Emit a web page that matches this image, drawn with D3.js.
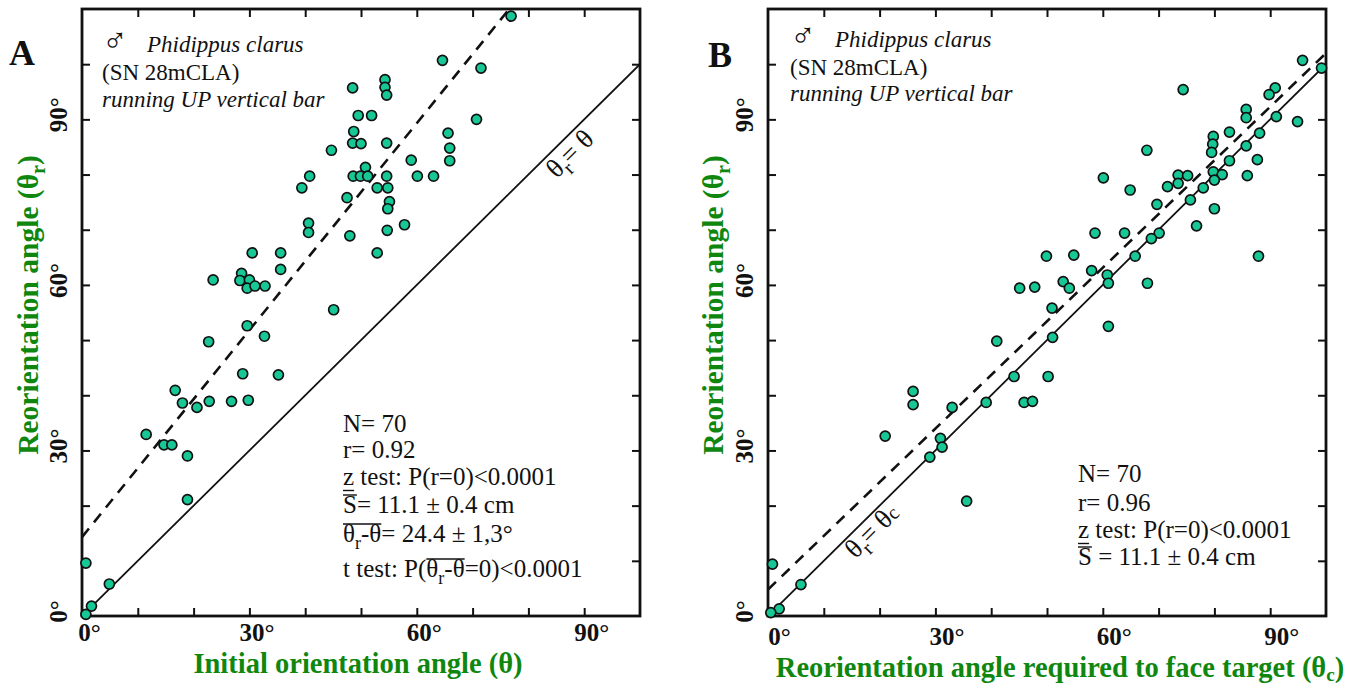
<!DOCTYPE html>
<html><head><meta charset="utf-8">
<script src="https://cdn.jsdelivr.net/npm/d3@7"></script>
<style>body{margin:0;background:#fff}svg{display:block}</style>
</head><body>
<svg id="c" width="1368" height="686"></svg>
<script>
// ---------- data ----------
const thetaA  = [76.9,64.6,71.5,54.3,54.3,54.6,48.5,49.5,51.9,70.7,48.7,48.5,50.0,54.6,65.6,65.9,65.9,59.0,44.7,50.8,40.8,48.6,49.9,51.2,54.6,60.1,63.0,39.4,52.9,54.8,55.1,54.8,47.5,40.6,40.6,57.8,54.7,48.0,30.5,35.6,52.9,35.6,23.5,28.6,28.3,30.0,29.6,31.0,32.8,45.1,29.6,32.7,22.7,28.8,35.2,16.7,18.0,20.6,22.8,26.8,29.8,11.5,14.7,16.1,18.9,18.9,0.7,4.9,1.7,0.7];
const thetaRA = [108.7,100.7,99.3,97.2,95.8,94.4,95.7,90.7,90.7,90.0,87.8,85.7,85.6,85.7,87.5,84.8,82.5,82.6,84.4,81.3,79.7,79.7,79.7,79.7,79.7,79.7,79.7,77.6,77.6,77.6,75.1,73.8,75.8,71.2,69.5,70.9,69.9,68.9,65.8,65.8,65.8,62.8,60.9,62.1,60.8,60.9,59.4,59.8,59.8,55.5,52.6,50.7,49.7,43.9,43.7,40.9,38.6,37.8,38.9,38.9,39.1,32.9,31.0,31.0,29.0,21.1,9.6,5.8,1.8,0.3];
const thetaCB = [95.8,99.2,74.4,90.9,89.8,85.7,85.7,91.1,94.9,88.1,82.7,79.8,79.7,79.5,85.7,82.7,87.7,67.9,79.8,81.4,85.9,73.5,75.2,80.0,73.5,71.6,78.0,60.1,64.9,75.7,69.7,80.0,76.8,58.6,63.9,70.1,68.7,65.8,87.9,49.9,54.8,58.0,60.8,61.0,52.9,54.0,45.1,47.8,68.0,50.9,61.0,51.0,41.0,44.1,50.2,39.1,45.9,47.4,26.0,26.0,33.0,21.0,30.9,31.2,29.0,35.6,0.8,5.9,2.0,0.5];
const thetaRB = [100.7,99.3,95.4,95.7,94.5,91.8,90.3,90.5,89.6,87.5,87.7,86.9,85.5,84.0,85.2,82.5,82.7,84.4,80.5,80.0,79.8,79.9,79.8,79.0,78.4,77.8,77.6,79.4,77.2,75.4,74.6,73.8,70.7,69.4,69.4,69.4,68.4,65.2,65.2,65.2,65.4,62.6,61.8,60.3,60.6,59.4,59.4,59.6,60.3,55.8,52.5,50.5,49.8,43.4,43.4,38.7,38.7,38.9,40.7,38.3,37.8,32.6,32.2,30.6,28.8,20.8,9.4,5.7,1.3,0.6];
const tickLabelValues = [0, 30, 60, 90];
const minorTickValues = [10, 20, 30, 40, 50, 60, 70, 80, 90, 100];
const xDomain = [0, 100];
const yDomain = [0, 110];
const regA = [14.3, 1.25];   // intercept, slope of dashed line (panel A)
const regB = [4.8, 0.972];   // intercept, slope of dashed line (panel B)
const speciesLines = [
  [{t:"\u2642", sym:true}, {t:"Phidippus clarus", it:true}],
  [{t:"(SN 28mCLA)"}],
  [{t:"running UP vertical bar", it:true}]
];
const statsA = [
  [{t:"N= 70"}],
  [{t:"r= 0.92"}],
  [{t:"z", under:true},{t:" test: P(r=0)<0.0001"}],
  [{t:"S", over:true},{t:"= 11.1 \u00b1 0.4 cm"}],
  [{t:"\u03b8", over:true},{t:"r", sub:true, over:true},{t:"-\u03b8", over:true},{t:"= 24.4 \u00b1 1,3\u00b0"}],
  [{t:"t test: P("},{t:"\u03b8", over:true},{t:"r", sub:true, over:true},{t:"-\u03b8", over:true},{t:"=0)<0.0001"}]
];
const statsB = [
  [{t:"N= 70"}],
  [{t:"r= 0.96"}],
  [{t:"z", under:true},{t:" test: P(r=0)<0.0001"}],
  [{t:"S", over:true},{t:" = 11.1 \u00b1 0.4 cm"}]
];

// ---------- drawing ----------
const SERIF = "'Liberation Serif','Times New Roman',serif";
const GREEN = "#0f870f";
const PT = "#17c795";
const INK = "#111";
const svg = d3.select("#c");

function segText(parent, x, y, segs, size) {
  const t = parent.append("text").attr("x", x).attr("y", y)
    .attr("font-family", SERIF).attr("font-size", size).attr("fill", INK);
  const nodes = [];
  segs.forEach((s, i) => {
    const sp = t.append("tspan").text(s.t);
    if (s.it) sp.attr("font-style", "italic");
    if (s.sym) sp.attr("font-family", "'DejaVu Sans',sans-serif").attr("font-weight", 200).attr("font-size", size * 1.5);
    if (s.sub) sp.attr("font-size", size * 0.72).attr("dy", 6.5);
    else if (i > 0 && segs[i - 1].sub) sp.attr("dy", -6.5);
    nodes.push({s, sp});
  });
  return {t, nodes};
}
function decorate(parent, obj, y) {
  let run = null;
  const runs = [];
  obj.nodes.forEach(n => {
    const node = n.sp.node();
    const len = node.getNumberOfChars();
    if (len === 0) return;
    const x0 = node.getStartPositionOfChar(0).x;
    const x1 = node.getEndPositionOfChar(len - 1).x;
    if (n.s.over) {
      if (run) run[1] = x1; else { run = [x0, x1]; runs.push(run); }
    } else run = null;
    if (n.s.under) parent.append("line").attr("x1", x0).attr("x2", x1)
      .attr("y1", y + 5.5).attr("y2", y + 5.5).attr("stroke", INK).attr("stroke-width", 1.4);
  });
  runs.forEach(r => parent.append("line").attr("x1", r[0]).attr("x2", r[1])
    .attr("y1", y - 18).attr("y2", y - 18).attr("stroke", INK).attr("stroke-width", 1.4));
}

function panel(p) {
  const g = svg.append("g");
  const x = d3.scaleLinear().domain(xDomain).range([p.left, p.right]);
  const y = d3.scaleLinear().domain(yDomain).range([p.bottom, p.top]);
  const minor = minorTickValues.filter(v => v < 100);
  const styleTicks = sel => { sel.select(".domain").remove(); sel.selectAll("line").attr("stroke", INK).attr("stroke-width", 2); };
  g.append("g").attr("transform", `translate(0,${p.bottom})`)
    .call(d3.axisBottom(x).tickValues(minor).tickSize(-8).tickFormat("")).call(styleTicks);
  g.append("g").attr("transform", `translate(0,${p.top})`)
    .call(d3.axisTop(x).tickValues(minor).tickSize(-8).tickFormat("")).call(styleTicks);
  g.append("g").attr("transform", `translate(${p.left},0)`)
    .call(d3.axisLeft(y).tickValues(minorTickValues).tickSize(-8).tickFormat("")).call(styleTicks);
  g.append("g").attr("transform", `translate(${p.right},0)`)
    .call(d3.axisRight(y).tickValues(minorTickValues).tickSize(-8).tickFormat("")).call(styleTicks);

  // tick labels
  const bl = g.append("g").attr("transform", `translate(0,${p.bottom})`)
    .call(d3.axisBottom(x).tickValues(tickLabelValues).tickSize(0).tickFormat(d => d + "\u00b0"));
  bl.select(".domain").remove();
  bl.selectAll("text").attr("y", p.xLabY).attr("dy", 0).attr("x", p.xLabDx)
    .attr("font-family", SERIF).attr("font-weight", "bold").attr("font-size", 25).attr("fill", INK);
  const ll = g.append("g").attr("transform", `translate(${p.left},0)`)
    .call(d3.axisLeft(y).tickValues(tickLabelValues).tickSize(0).tickFormat(d => d + "\u00b0"));
  ll.select(".domain").remove();
  ll.selectAll("text").attr("x", 0).attr("y", 0).attr("dy", 0).attr("text-anchor", "middle")
    .attr("transform", "translate(-15,-5) rotate(-90)")
    .attr("font-family", SERIF).attr("font-weight", "bold").attr("font-size", 25).attr("fill", INK);

  // lines
  const clipId = "clip" + p.id;
  svg.append("clipPath").attr("id", clipId).append("rect")
    .attr("x", p.left).attr("y", p.top).attr("width", p.right - p.left).attr("height", p.bottom - p.top);
  const line = d3.line().x(d => x(d[0])).y(d => y(d[1]));
  g.append("path").attr("clip-path", `url(#${clipId})`)
    .attr("d", line([[0, 0], [100, 100]])).attr("stroke", INK).attr("stroke-width", 1.8).attr("fill", "none");
  const xEnd = Math.min(100, (yDomain[1] - p.reg[0]) / p.reg[1]);
  g.append("path").attr("clip-path", `url(#${clipId})`)
    .attr("d", line([[0, p.reg[0]], [xEnd, p.reg[0] + p.reg[1] * xEnd]]))
    .attr("stroke", INK).attr("stroke-width", 2.6).attr("stroke-dasharray", "11,8").attr("fill", "none");

  // frame
  g.append("rect").attr("x", p.left).attr("y", p.top).attr("width", p.right - p.left).attr("height", p.bottom - p.top)
    .attr("fill", "none").attr("stroke", INK).attr("stroke-width", 2.8);

  // points
  g.append("g").selectAll("circle").data(p.xs.map((v, i) => [v, p.ys[i]])).join("circle")
    .attr("cx", d => x(d[0])).attr("cy", d => y(d[1])).attr("r", 5)
    .attr("fill", PT).attr("stroke", INK).attr("stroke-width", 1.7);

  // identity label
  const il = g.append("text").attr("transform", `translate(${p.idLab[0]},${p.idLab[1]}) rotate(-45)`)
    .attr("text-anchor", "middle").attr("font-family", SERIF).attr("font-size", 27).attr("fill", INK);
  il.append("tspan").text("\u03b8");
  il.append("tspan").text("r").attr("font-size", 20).attr("dy", 7);
  il.append("tspan").text("= \u03b8").attr("dy", -7);
  if (p.idSub) il.append("tspan").text(p.idSub).attr("font-size", 20).attr("dy", 0);

  // species text
  speciesLines.forEach((ln, i) => {
    const o = segText(g, p.spX, p.spY[i], ln, 23);
    if (ln.length > 1) o.nodes[1].sp.attr("x", p.spX + 45);
  });

  // stats
  p.stats.forEach((ln, i) => {
    const o = segText(g, p.stX, p.stY[i], ln, 25);
    decorate(g, o, p.stY[i]);
  });

  // panel letter
  g.append("text").attr("x", p.letter[0]).attr("y", p.letter[1]).attr("text-anchor", "middle")
    .attr("font-family", SERIF).attr("font-weight", "bold").attr("font-size", 36).attr("fill", INK).text(p.letterText);

  // axis titles
  const xt = g.append("text").attr("x", p.xTitle[0]).attr("y", p.xTitle[1]).attr("text-anchor", "middle")
    .attr("font-family", SERIF).attr("font-weight", "bold").attr("font-size", 28.5).attr("fill", GREEN);
  p.xTitleSegs.forEach(s => {
    const sp = xt.append("tspan").text(s.t);
    if (s.sub) sp.attr("font-size", 19).attr("dy", 4);
    if (s.back) sp.attr("dy", -4);
  });
  const yt = g.append("text").attr("transform", `translate(${p.yTitle[0]},${p.yTitle[1]}) rotate(-90)`)
    .attr("text-anchor", "middle").attr("font-family", SERIF).attr("font-weight", "bold").attr("font-size", 29.5).attr("fill", GREEN);
  yt.append("tspan").text("Reorientation angle (\u03b8");
  yt.append("tspan").text("r").attr("font-size", 20).attr("dy", 7);
  yt.append("tspan").text(")").attr("dy", -7);
}

panel({
  id: "A", left: 82, right: 640, top: 9, bottom: 616,
  xs: thetaA, ys: thetaRA, reg: regA, xLabDx: 7, xLabY: 25,
  idLab: [576, 160], idSub: null,
  spX: 102, spY: [52, 80, 107],
  stX: 343, stY: [432, 458, 485, 513, 542, 577], stats: statsA,
  letter: [22, 65], letterText: "A",
  xTitle: [358, 673], xTitleSegs: [{t:"Initial orientation angle (\u03b8)"}],
  yTitle: [38, 305]
});
panel({
  id: "B", left: 768, right: 1326, top: 9, bottom: 616,
  xs: thetaCB, ys: thetaRB, reg: regB, xLabDx: 11, xLabY: 29,
  idLab: [878, 537], idSub: "c",
  spX: 790, spY: [47, 75, 101],
  stX: 1078, stY: [482, 511, 538, 565], stats: statsB,
  letter: [720, 67], letterText: "B",
  xTitle: [1060, 677], xTitleSegs: [{t:"Reorientation angle required to face target (\u03b8"},{t:"c", sub:true},{t:")", back:true}],
  yTitle: [723, 305]
});
</script>
</body></html>
